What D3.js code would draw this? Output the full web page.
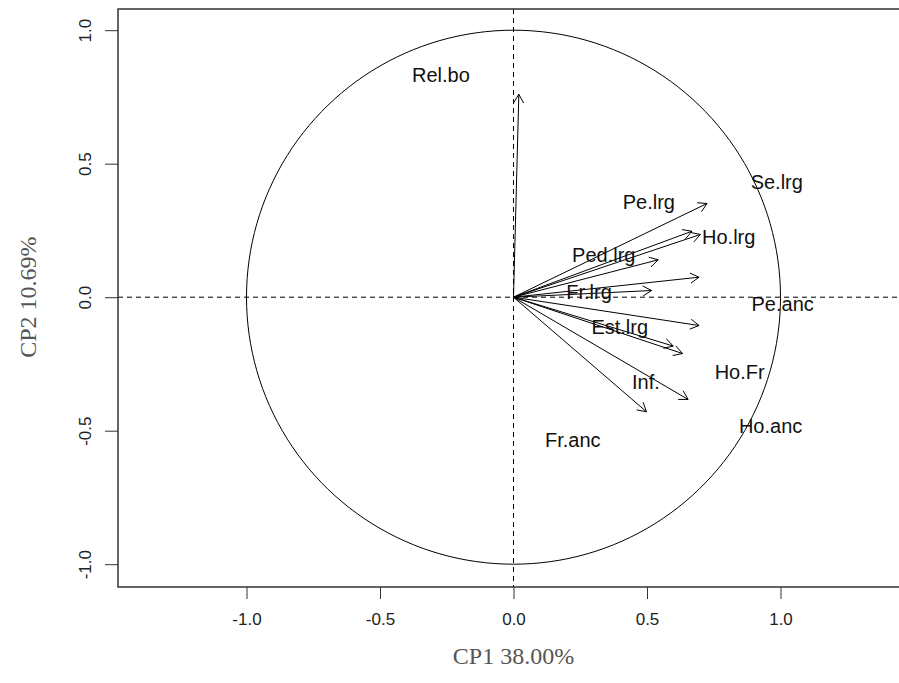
<!DOCTYPE html>
<html>
<head>
<meta charset="utf-8">
<script src="https://cdn.jsdelivr.net/npm/d3@7"></script>
<style>
  html, body { margin: 0; padding: 0; background: #fff; }
  svg { display: block; }
</style>
</head>
<body>
<svg id="chart" width="899" height="683"></svg>
<script>
// Variable loadings on the first two principal components
const variables = ["Rel.bo", "Pe.lrg", "Ho.lrg", "Se.lrg", "Ped.lrg", "Pe.anc",
                   "Fr.lrg", "Ho.Fr", "Est.lrg", "Ho.anc", "Inf.", "Fr.anc"];
const cp1 = [0.02, 0.725, 0.668, 0.70, 0.542, 0.695, 0.517, 0.695, 0.598, 0.633, 0.654, 0.498];
const cp2 = [0.76, 0.351, 0.247, 0.235, 0.14, 0.075, 0.025, -0.106, -0.183, -0.211, -0.383, -0.429];

// Label anchor coordinates (in the same units as the loadings)
const labelNames = ["Rel.bo", "Se.lrg", "Pe.lrg", "Ho.lrg", "Ped.lrg", "Fr.lrg",
                    "Pe.anc", "Est.lrg", "Ho.Fr", "Inf.", "Ho.anc", "Fr.anc"];
const labelX = [-0.272, 0.986, 0.507, 0.806, 0.338, 0.283, 1.008, 0.398, 0.847, 0.496, 0.963, 0.222];
const labelY = [0.834, 0.433, 0.355, 0.224, 0.159, 0.021, -0.024, -0.110, -0.282, -0.316, -0.484, -0.533];

const tickValues = [-1.0, -0.5, 0.0, 0.5, 1.0];
const xTitle = "CP1 38.00%";
const yTitle = "CP2 10.69%";

const svg = d3.select("#chart");

// Plot frame with equal aspect ratio (267 px per unit on both axes)
const frame = { left: 118, right: 909, top: 9, bottom: 587 };
const x = d3.scaleLinear().domain([-1.4813, 1.4813]).range([frame.left, frame.right]);
const y = d3.scaleLinear().domain([-1.0854, 1.0794]).range([frame.bottom, frame.top]);

const ink = "#000";
const axisInk = "#333";
const sans = "Liberation Sans, Arial, sans-serif";
const serif = "Liberation Serif, Times New Roman, serif";
const fmt = d => d.toFixed(1);

// Axes
const xAxis = d3.axisBottom(x).tickValues(tickValues).tickFormat(fmt).tickSize(12).tickPadding(14);
const gx = svg.append("g").attr("transform", `translate(0,${frame.bottom})`).call(xAxis);
gx.select(".domain").remove();
gx.selectAll(".tick line").attr("stroke", axisInk);
gx.selectAll(".tick text").attr("fill", "#222")
  .style("font-family", sans).style("font-size", "17px");

const yAxis = d3.axisLeft(y).tickValues(tickValues).tickFormat(fmt).tickSize(13).tickPadding(0);
const gy = svg.append("g").attr("transform", `translate(${frame.left},0)`).call(yAxis);
gy.select(".domain").remove();
gy.selectAll(".tick line").attr("stroke", axisInk);
gy.selectAll(".tick text")
  .attr("fill", "#222")
  .attr("text-anchor", "middle")
  .attr("transform", "rotate(-90)")
  .attr("x", 0).attr("y", -33).attr("dy", "0.35em")
  .style("font-family", sans).style("font-size", "17px");

// Axis titles
svg.append("text")
  .attr("x", x(0)).attr("y", 664)
  .attr("text-anchor", "middle")
  .attr("fill", "#555")
  .style("font-family", serif).style("font-size", "24px")
  .text(xTitle);
svg.append("text")
  .attr("transform", `translate(36,${y(0)}) rotate(-90)`)
  .attr("text-anchor", "middle")
  .attr("fill", "#555")
  .style("font-family", serif).style("font-size", "24px")
  .text(yTitle);

// Clip drawing to the plot region
svg.append("clipPath").attr("id", "plotclip")
  .append("rect").attr("x", frame.left).attr("y", frame.top)
  .attr("width", frame.right - frame.left).attr("height", frame.bottom - frame.top);
const plot = svg.append("g").attr("clip-path", "url(#plotclip)");

// Reference lines through the origin
plot.append("line")
  .attr("x1", frame.left).attr("x2", frame.right).attr("y1", y(0)).attr("y2", y(0))
  .attr("stroke", ink).attr("stroke-dasharray", "5,4");
plot.append("line")
  .attr("x1", x(0)).attr("x2", x(0)).attr("y1", frame.top).attr("y2", frame.bottom)
  .attr("stroke", ink).attr("stroke-dasharray", "5,4");

// Unit correlation circle
const circle = d3.range(0, 361, 2).map(a => [Math.cos(a * Math.PI / 180), Math.sin(a * Math.PI / 180)]);
plot.append("path")
  .attr("d", d3.line().x(d => x(d[0])).y(d => y(d[1]))(circle))
  .attr("fill", "none").attr("stroke", ink).attr("stroke-width", 1);

// Loading arrows with open heads
const headLen = 10, headAngle = Math.PI / 6;
variables.forEach((v, i) => {
  const x0 = x(0), y0 = y(0), x1 = x(cp1[i]), y1 = y(cp2[i]);
  const ang = Math.atan2(y1 - y0, x1 - x0);
  plot.append("line")
    .attr("x1", x0).attr("y1", y0).attr("x2", x1).attr("y2", y1)
    .attr("stroke", ink).attr("stroke-width", 1);
  const pts = [
    [x1 - headLen * Math.cos(ang - headAngle), y1 - headLen * Math.sin(ang - headAngle)],
    [x1, y1],
    [x1 - headLen * Math.cos(ang + headAngle), y1 - headLen * Math.sin(ang + headAngle)]
  ];
  plot.append("path").attr("d", d3.line()(pts))
    .attr("fill", "none").attr("stroke", ink).attr("stroke-width", 1);
});

// Variable labels
labelNames.forEach((n, i) => {
  plot.append("text")
    .attr("x", x(labelX[i])).attr("y", y(labelY[i]))
    .attr("dy", "0.35em")
    .attr("text-anchor", "middle")
    .attr("fill", "#111")
    .style("font-family", sans).style("font-size", "20px")
    .text(n);
});

// Plot frame
svg.append("rect")
  .attr("x", frame.left).attr("y", frame.top)
  .attr("width", frame.right - frame.left).attr("height", frame.bottom - frame.top)
  .attr("fill", "none").attr("stroke", axisInk).attr("stroke-width", 1.5);
</script>
</body>
</html>
